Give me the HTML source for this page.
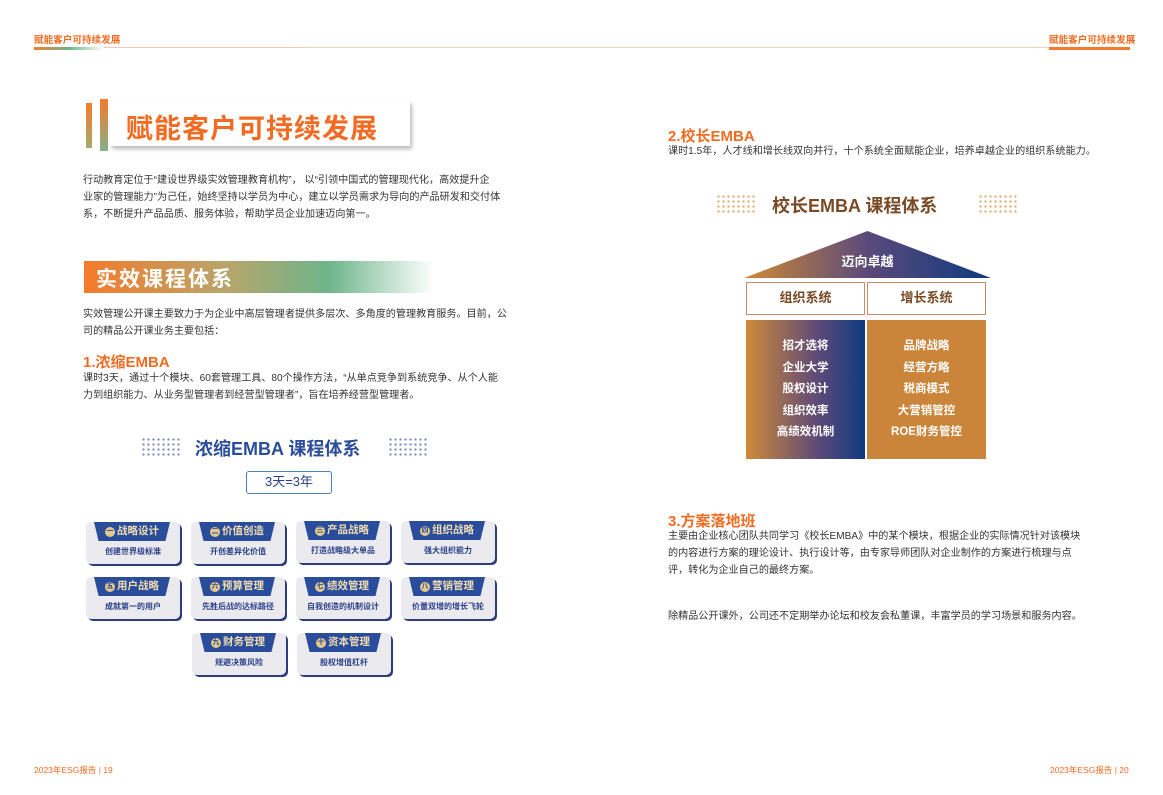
<!DOCTYPE html>
<html><head><meta charset="utf-8"><style>
*{margin:0;padding:0;box-sizing:border-box}
body{width:1163px;height:795px;background:#fff;position:relative;overflow:hidden;font-family:"Liberation Sans","Noto Sans CJK SC",sans-serif;color:#333}
.a{position:absolute}
.p{font-size:10.1px;line-height:17px;color:#333;white-space:nowrap}
.h{color:#f26b22;font-weight:bold;font-size:15px}
.card{position:absolute;width:94px;height:42px;background:#ebebef;border-radius:5px;box-shadow:2px 2px 0 #2d3c7a}
.card .t{position:absolute;left:8px;top:0;width:76px;height:19px;background:#2a4d9b;clip-path:polygon(0 0,100% 0,94% 100%,6% 100%);color:#f1dcb0;font-size:10.5px;font-weight:bold;text-align:center;line-height:19px}
.card .t i{display:inline-block;width:10px;height:10px;border-radius:50%;background:#e7c98b;color:#2a4d9b;font-style:normal;font-size:7px;line-height:10px;vertical-align:1px;margin-right:2px}
.card .s{position:absolute;left:0;right:0;top:24px;text-align:center;font-size:8px;font-weight:bold;color:#2a3f8a}
.dots{position:absolute;width:40px;height:20px;background-image:radial-gradient(circle,#7b86b8 1px,transparent 1.3px);background-size:5px 5px}
.dots2{position:absolute;width:40px;height:20px;background-image:radial-gradient(circle,#e0a46a 1px,transparent 1.3px);background-size:5px 5px}
</style></head><body>
<div class="a" style="left:34px;top:32px;font-size:9.6px;font-weight:bold;color:#f26b22">赋能客户可持续发展</div>
<div class="a" style="left:34px;top:47px;width:266px;height:1px;background:#f7c9b0"></div>
<div class="a" style="left:34px;top:47px;width:70px;height:3px;background:linear-gradient(90deg,#f47b2a,#6db58a,#fff)"></div>
<div class="a" style="left:300px;top:47px;width:830px;height:1px;background:#f7d0bc"></div>
<div class="a" style="left:1049px;top:32px;font-size:9.6px;font-weight:bold;color:#f26b22">赋能客户可持续发展</div>
<div class="a" style="left:1049px;top:47px;width:81px;height:3px;background:#f47b2a"></div>
<div class="a" style="left:86px;top:103px;width:6px;height:45px;background:linear-gradient(#f47b2a,#a8a970)"></div>
<div class="a" style="left:100px;top:99px;width:8px;height:52px;background:linear-gradient(#f47b2a,#86b08a)"></div>
<div class="a" style="left:110px;top:101px;width:300px;height:45px;background:#fff;box-shadow:2px 3px 4px #bbb"></div>
<div class="a" style="left:126px;top:107px;font-size:27px;font-weight:bold;color:#f26b22;letter-spacing:1px">赋能客户可持续发展</div>
<div class="a p" style="left:83px;top:172px">行动教育定位于“建设世界级实效管理教育机构”， 以“引领中国式的管理现代化，高效提升企<br>业家的管理能力”为己任，始终坚持以学员为中心，建立以学员需求为导向的产品研发和交付体<br>系，不断提升产品品质、服务体验，帮助学员企业加速迈向第一。</div>
<div class="a" style="left:84px;top:261px;width:350px;height:32px;background:linear-gradient(90deg,#f47b2a 0%,#b9a46a 40%,#6db58a 70%,#fff 100%)"></div>
<div class="a" style="left:96px;top:263px;font-size:21px;font-weight:bold;color:#fff;letter-spacing:2px">实效课程体系</div>
<div class="a p" style="left:83px;top:306px">实效管理公开课主要致力于为企业中高层管理者提供多层次、多角度的管理教育服务。目前，公<br>司的精品公开课业务主要包括：</div>
<div class="a h" style="left:83px;top:351px">1.浓缩EMBA</div>
<div class="a p" style="left:83px;top:370px">课时3天，通过十个模块、60套管理工具、80个操作方法，“从单点竞争到系统竞争、从个人能<br>力到组织能力、从业务型管理者到经营型管理者”，旨在培养经营型管理者。</div>
<div class="dots" style="left:141px;top:437px"></div>
<div class="a" style="left:195px;top:435px;font-size:18px;font-weight:bold;color:#2a4d9b">浓缩EMBA 课程体系</div>
<div class="dots" style="left:388px;top:437px"></div>
<div class="a" style="left:246px;top:471px;width:86px;height:23px;border:1.5px solid #4a7fc0;border-radius:3px;text-align:center;font-size:13px;line-height:20px;color:#2a3f8a">3天=3年</div>
<div class="card" style="left:86px;top:522px"><div class="t"><i>一</i>战略设计</div><div class="s">创建世界级标准</div></div>
<div class="card" style="left:191px;top:522px"><div class="t"><i>二</i>价值创造</div><div class="s">开创差异化价值</div></div>
<div class="card" style="left:296px;top:521px"><div class="t"><i>三</i>产品战略</div><div class="s">打造战略级大单品</div></div>
<div class="card" style="left:401px;top:521px"><div class="t"><i>四</i>组织战略</div><div class="s">强大组织能力</div></div>
<div class="card" style="left:86px;top:577px"><div class="t"><i>五</i>用户战略</div><div class="s">成就第一的用户</div></div>
<div class="card" style="left:191px;top:577px"><div class="t"><i>六</i>预算管理</div><div class="s">先胜后战的达标路径</div></div>
<div class="card" style="left:296px;top:577px"><div class="t"><i>七</i>绩效管理</div><div class="s">自我创造的机制设计</div></div>
<div class="card" style="left:401px;top:577px"><div class="t"><i>八</i>营销管理</div><div class="s">价量双增的增长飞轮</div></div>
<div class="card" style="left:192px;top:633px"><div class="t"><i>九</i>财务管理</div><div class="s">规避决策风险</div></div>
<div class="card" style="left:297px;top:633px"><div class="t"><i>十</i>资本管理</div><div class="s">股权增值杠杆</div></div>
<div class="a" style="left:34px;top:764px;font-size:8.5px;color:#f26b22">2023年ESG报告 | 19</div>
<div class="a h" style="left:668px;top:125px">2.校长EMBA</div>
<div class="a p" style="left:668px;top:143px">课时1.5年，人才线和增长线双向并行，十个系统全面赋能企业，培养卓越企业的组织系统能力。</div>
<div class="dots2" style="left:716px;top:194px"></div>
<div class="a" style="left:772px;top:192px;font-size:18px;font-weight:bold;color:#7a4a24">校长EMBA 课程体系</div>
<div class="dots2" style="left:978px;top:194px"></div>
<div class="a" style="left:744px;top:231px;width:247px;height:47px;background:linear-gradient(90deg,#d08a35,#5a4a7a 50%,#0e3a80);clip-path:polygon(50% 0,100% 100%,0 100%)"></div>
<div class="a" style="left:744px;top:251px;width:247px;text-align:center;color:#fff;font-size:13px;font-weight:bold">迈向卓越</div>
<div class="a" style="left:746px;top:282px;width:119px;height:33px;border:1.5px solid #c98a6a;text-align:center;line-height:30px;font-size:13px;font-weight:bold;color:#7a4a24">组织系统</div>
<div class="a" style="left:867px;top:282px;width:119px;height:33px;border:1.5px solid #c98a6a;text-align:center;line-height:30px;font-size:13px;font-weight:bold;color:#7a4a24">增长系统</div>
<div class="a" style="left:746px;top:320px;width:119px;height:139px;background:linear-gradient(90deg,#cf8a38,#5e4a78 60%,#0e3a80);color:#fff;font-size:11.5px;font-weight:bold;text-align:center;line-height:21.5px;padding-top:16px">招才选将<br>企业大学<br>股权设计<br>组织效率<br>高绩效机制</div>
<div class="a" style="left:867px;top:320px;width:119px;height:139px;background:#cb853a;color:#fff;font-size:11.5px;font-weight:bold;text-align:center;line-height:21.5px;padding-top:16px">品牌战略<br>经营方略<br>税商模式<br>大营销管控<br>ROE财务管控</div>
<div class="a h" style="left:668px;top:510px">3.方案落地班</div>
<div class="a p" style="left:668px;top:528px">主要由企业核心团队共同学习《校长EMBA》中的某个模块，根据企业的实际情况针对该模块<br>的内容进行方案的理论设计、执行设计等，由专家导师团队对企业制作的方案进行梳理与点<br>评，转化为企业自己的最终方案。</div>
<div class="a p" style="left:668px;top:608px">除精品公开课外，公司还不定期举办论坛和校友会私董课，丰富学员的学习场景和服务内容。</div>
<div class="a" style="left:1050px;top:764px;font-size:8.5px;color:#f26b22">2023年ESG报告 | 20</div>
</body></html>
